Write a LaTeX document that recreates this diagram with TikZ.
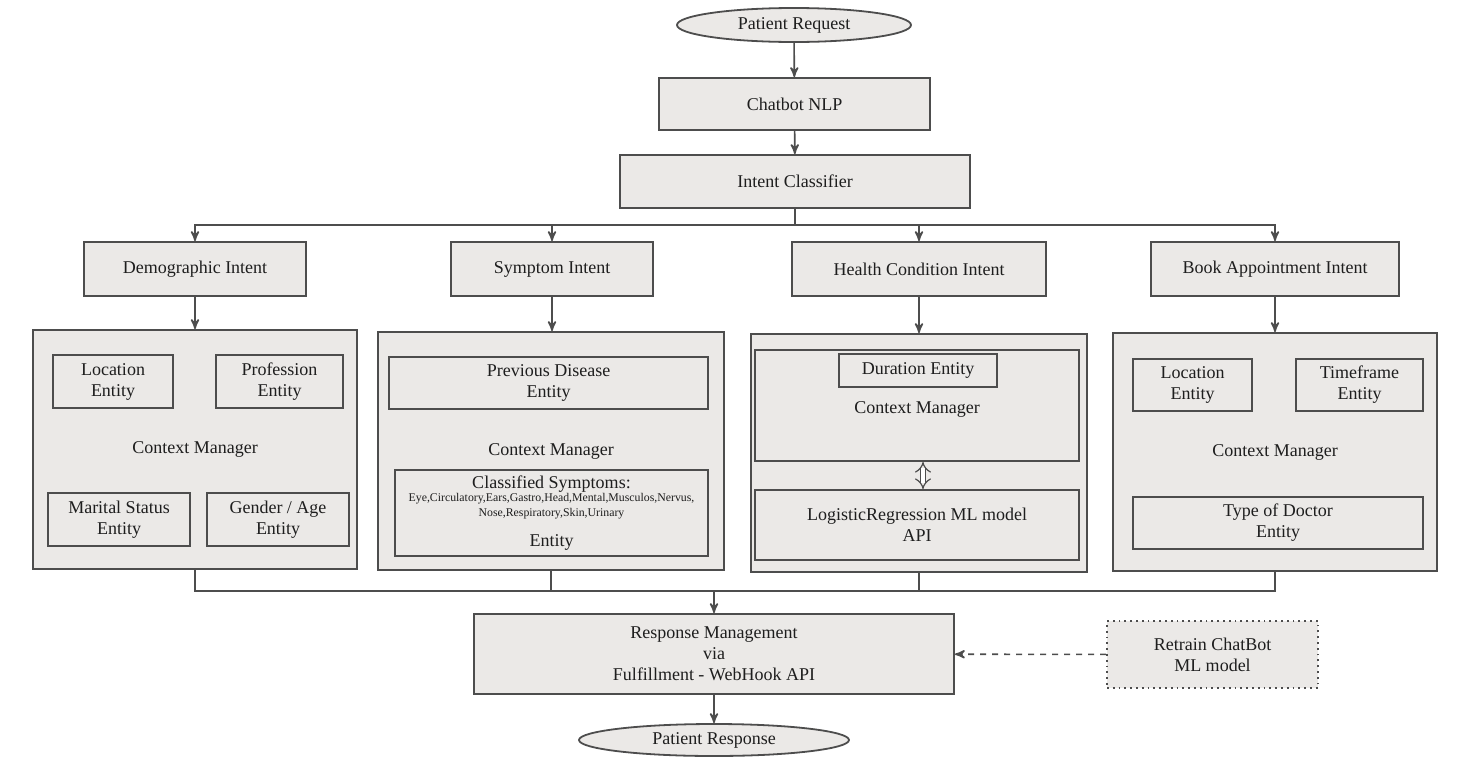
\documentclass[tikz,border=0pt]{standalone}
\usepackage{fontspec}
\setmainfont{Liberation Serif}
\usepackage{tikz}
\usetikzlibrary{shapes.geometric, arrows, arrows.meta, positioning, calc}
\definecolor{boxfill}{RGB}{235,233,231}
\definecolor{linegray}{RGB}{77,77,77}
\definecolor{textdark}{RGB}{30,30,30}

\begin{document}
\begin{tikzpicture}[x=0.5pt, y=-0.5pt,
  box/.style={rectangle, draw=linegray, fill=boxfill, line width=0.9pt, inner sep=0pt, align=center, text=textdark, font=\fontsize{9}{10.5}\selectfont},
  terminal/.style={box, ellipse},
  conn/.style={draw=linegray, line width=0.8pt},
  arr/.style={conn, ->, >=stealth'}]
\useasboundingbox (0,0) rectangle (1457,766);

% Top of the flow
\node[terminal, minimum width=117pt, minimum height=17pt] (preq) at (794,25) {Patient Request};
\node[box, minimum width=135.5pt, minimum height=26pt] (nlp) at (794.5,104) {Chatbot NLP};
\node[box, minimum width=175pt, minimum height=26.5pt] (ic) at (795,181.5) {Intent Classifier};

% Intents
\node[box, minimum width=111pt, minimum height=27pt] (demo) at (195,269) {Demographic Intent};
\node[box, minimum width=101pt, minimum height=27pt] (symp) at (552,269) {Symptom Intent};
\node[box, minimum width=127pt, minimum height=27pt] (health) at (919,269) {Health Condition Intent};
\node[box, minimum width=124pt, minimum height=27pt] (book) at (1275,269) {Book Appointment Intent};

% Demographic context manager
\node[box, minimum width=162pt, minimum height=119.5pt] (demobox) at (195,449.5) {Context Manager};
\node[box, minimum width=60pt, minimum height=26.5pt] (dloc) at (113,381.5) {Location\\Entity};
\node[box, minimum width=63.5pt, minimum height=26.5pt] (dprof) at (279.5,381.5) {Profession\\Entity};
\node[box, minimum width=71pt, minimum height=26.5pt] (dmar) at (119,519.5) {Marital Status\\Entity};
\node[box, minimum width=71pt, minimum height=26.5pt] (dgen) at (278,519.5) {Gender / Age\\Entity};

% Symptom context manager
\node[box, minimum width=173pt, minimum height=119pt] (sympbox) at (551,451) {Context Manager};
\node[box, minimum width=159.5pt, minimum height=26pt] (sprev) at (548.5,383) {Previous Disease\\Entity};
\node[box, minimum width=156.5pt, minimum height=43pt] (scls) at (551.5,513) {Classified Symptoms:\\[-1.5pt]
  {\fontsize{5.9}{7.5}\selectfont\begin{tabular}{@{}c@{}}Eye,Circulatory,Ears,Gastro,Head,Mental,Musculos,Nervus,\\Nose,Respiratory,Skin,Urinary\end{tabular}}\\[6pt]Entity};

% Health condition context manager
\node[box, minimum width=168pt, minimum height=119pt] (healthbox) at (919,453) {};
\node[box, minimum width=162pt, minimum height=55.5pt, text height=10pt, text depth=2pt] (hctx) at (917,405.5) {Context Manager};
\node[box, minimum width=79pt, minimum height=16.5pt] (hdur) at (918,370.5) {Duration Entity};
\node[box, minimum width=162pt, minimum height=35pt] (hml) at (917,525) {LogisticRegression ML model\\API};
\draw[draw=linegray, line width=0.6pt, double=white, double distance=2.2pt, {Implies}-{Implies}] ([xshift=3pt]hctx.south) -- ([xshift=3pt]hml.north);

% Appointment context manager
\node[box, minimum width=162pt, minimum height=119pt] (bookbox) at (1275,452) {Context Manager};
\node[box, minimum width=59.5pt, minimum height=26pt] (bloc) at (1192.5,385) {Location\\Entity};
\node[box, minimum width=63.5pt, minimum height=26pt] (btime) at (1359.5,385) {Timeframe\\Entity};
\node[box, minimum width=145pt, minimum height=26pt] (bdoc) at (1278,523) {Type of Doctor\\Entity};

% Response
\node[box, minimum width=240pt, minimum height=40pt] (resp) at (714,654) {Response Management\\via\\Fulfillment - WebHook API};
\node[box, dotted, minimum width=105.5pt, minimum height=33.5pt] (retrain) at (1212.5,654.5) {Retrain ChatBot\\ML model};
\node[terminal, minimum width=135pt, minimum height=16pt] (presp) at (714,740) {Patient Response};

% Connectors
\coordinate (split) at (795,225);
\coordinate (join) at (714,591);
\draw[arr] (preq) -- (nlp);
\draw[arr] (nlp) -- (ic);
\draw[conn] (ic.south) -- (split);
\draw[arr] (split) -| (demo.north);
\draw[arr] (split) -| (symp.north);
\draw[arr] (split) -| (health.north);
\draw[arr] (split) -| (book.north);
\draw[arr] (demo) -- (demobox);
\draw[arr] (symp.south) -- (symp.south |- sympbox.north);
\draw[arr] (health) -- (healthbox);
\draw[arr] (book) -- (bookbox);
\draw[conn] (demobox.south) |- (join);
\draw[conn] (sympbox.south) |- (join);
\draw[conn] (healthbox.south) |- (join);
\draw[conn] (bookbox.south) |- (join);
\draw[arr] (join) -- (resp.north);
\draw[arr, dashed] (retrain) -- (resp);
\draw[arr] (resp) -- (presp);
\end{tikzpicture}
\end{document}
